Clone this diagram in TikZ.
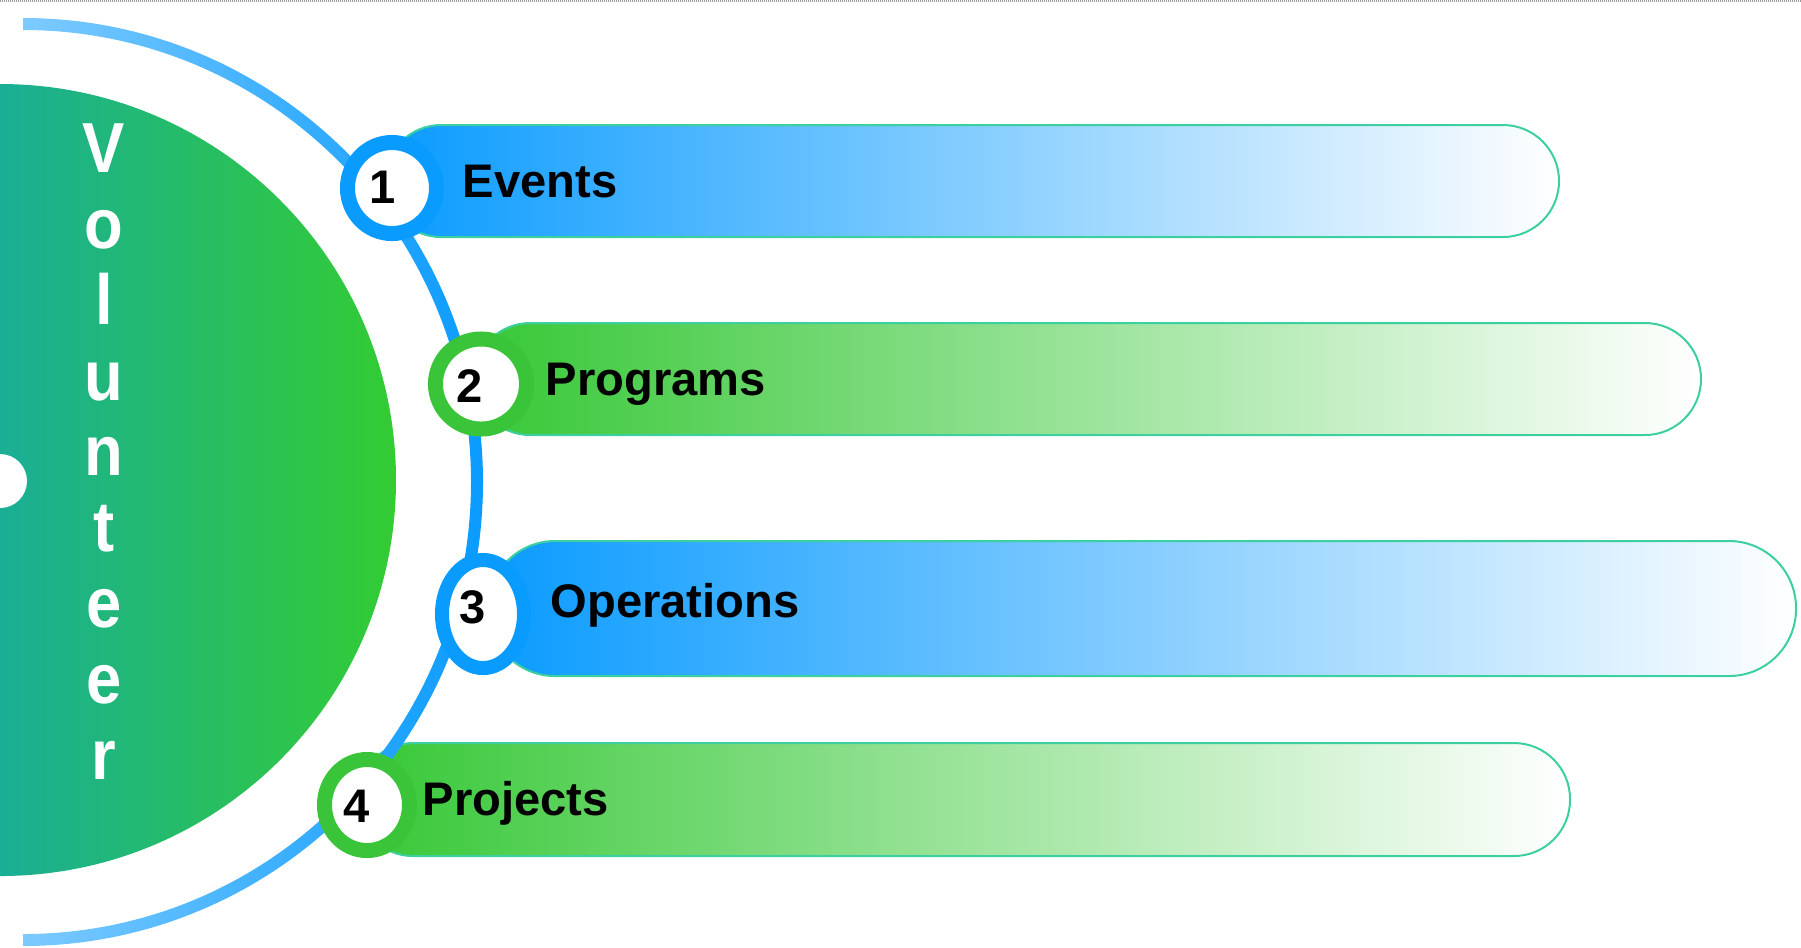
\documentclass[tikz,border=0pt]{standalone}
\usepackage{fontspec}
\setmainfont{Liberation Sans}
\usetikzlibrary{shapes.geometric}
\definecolor{bluedeep}{RGB}{10,155,255}
\definecolor{bluelight}{RGB}{125,202,255}
\definecolor{greenring}{RGB}{58,196,58}
\definecolor{greenbar}{RGB}{55,200,55}
\definecolor{discteal}{RGB}{26,174,150}
\definecolor{discgreen}{RGB}{51,204,51}
\definecolor{baredge}{RGB}{60,208,160}
\begin{document}
\begin{tikzpicture}[x=0.01cm,y=-0.01cm,
  lbl/.style={anchor=base west, font=\fontsize{13.4pt}{16pt}\selectfont\bfseries, inner sep=0},
  num/.style={anchor=base, font=\fontsize{13.4pt}{16pt}\selectfont\bfseries, inner sep=0},
  vlet/.style={anchor=base, text=white, font=\fontsize{18pt}{20pt}\selectfont\bfseries, inner sep=0},
  ringb/.style={ellipse, draw=bluedeep, fill=white, inner sep=0},
  ringg/.style={ellipse, draw=greenring, fill=white, inner sep=0},
  barb/.style={left color=bluedeep, right color=white, draw=baredge, line width=0.02cm},
  barg/.style={left color=greenbar, right color=white, draw=baredge, line width=0.02cm},
]
\useasboundingbox (0,0) rectangle (1801,947);
% top dotted border
\draw[gray!80, line width=0.02cm, dash pattern=on 0.01cm off 0.01cm] (0,1) -- (1801,1);
% big half disc
\shade[left color=discteal, right color=discgreen] (0,876) arc[start angle=90, end angle=-90, radius=396] -- cycle;
\fill[white] (0,481) circle (27);
% bars
\path[barb, rounded corners=0.56cm] (385,125) rectangle (1559,237);
\path[barg, rounded corners=0.56cm] (474,323) rectangle (1701,435);
\path[barb, rounded corners=0.67cm] (488,541) rectangle (1796,676);
\path[barg, rounded corners=0.56cm] (357,743) rectangle (1570,856);
% outer arc band
\shade[left color=bluelight, right color=bluedeep]
  (23,18) arc[start angle=-90, end angle=90, x radius=460, y radius=464]
  -- (23,934) arc[start angle=90, end angle=-90, x radius=448, y radius=452] -- cycle;
% numbered rings
\node[ringb, line width=0.15cm, minimum width=0.89cm, minimum height=0.91cm] (c1) at (392,188) {};
\node[ringg, line width=0.15cm, minimum width=0.91cm, minimum height=0.90cm] (c2) at (481,384) {};
\node[ringb, line width=0.14cm, minimum width=0.82cm, minimum height=1.08cm] (c3) at (483,614) {};
\node[ringg, line width=0.15cm, minimum width=0.85cm, minimum height=0.91cm] (c4) at (367,805) {};
\node[num] (d1) at (383,203) {1};
\node[num] (d2) at (470,402) {2};
\node[num] (d3) at (473,623) {3};
\node[num] (d4) at (357,822) {4};
% labels
\node[lbl] (t1) at (462,197) {Events};
\node[lbl] (t2) at (545,395) {Programs};
\node[lbl] (t3) at (550,617) {Operations};
\node[lbl] (t4) at (422,815) {Projects};
% vertical word
\node[vlet] (v1) at (104,172) {\scalebox{1}[1.12]{V}};
\node[vlet] (v2) at (104,248) {\scalebox{1}[1.12]{o}};
\node[vlet] (v3) at (104,324) {\scalebox{1}[1.12]{l}};
\node[vlet] (v4) at (104,400) {\scalebox{1}[1.12]{u}};
\node[vlet] (v5) at (104,475) {\scalebox{1}[1.12]{n}};
\node[vlet] (v6) at (104,551) {\scalebox{1}[1.12]{t}};
\node[vlet] (v7) at (104,627) {\scalebox{1}[1.12]{e}};
\node[vlet] (v8) at (104,703) {\scalebox{1}[1.12]{e}};
\node[vlet] (v9) at (104,779) {\scalebox{1}[1.12]{r}};
\end{tikzpicture}
\end{document}
